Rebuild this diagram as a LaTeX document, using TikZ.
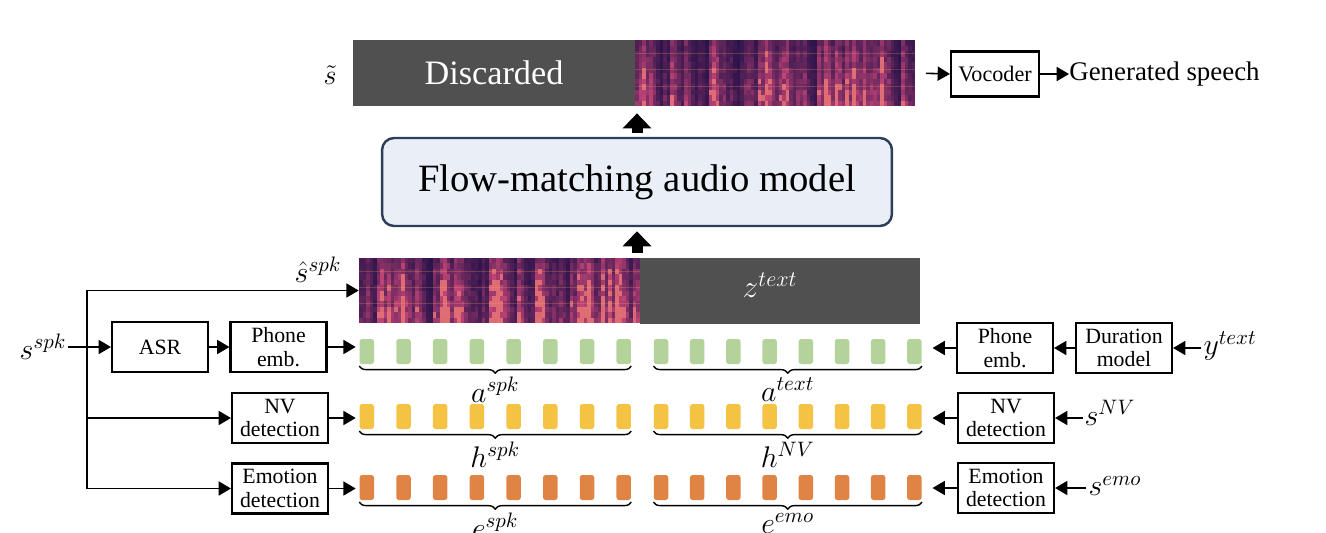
\RequirePackage{fix-cm}
\documentclass[tikz,border=0pt]{standalone}
\usepackage{amsmath}
\usepackage{fontspec}
\setmainfont{Liberation Serif}
\usepackage{tikz}
\usetikzlibrary{arrows.meta,decorations.pathreplacing}

\definecolor{bargray}{HTML}{505050}
\definecolor{flowfill}{HTML}{E9EEF7}
\definecolor{flowline}{HTML}{2D3E58}
\definecolor{tokgreen}{HTML}{B3D39B}
\definecolor{tokyellow}{HTML}{F5C343}
\definecolor{tokorange}{HTML}{E08446}
\definecolor{specbg}{HTML}{1A0E46}
\definecolor{specpink}{HTML}{D44A7C}
\definecolor{specglow}{HTML}{F4A26A}

% spectrogram: x0, y0 (top), x1, y1 (bottom), seed
\newcommand{\drawspec}[5]{%
  \fill[specbg] (#1,#2) rectangle (#3,#4);
  \pgfmathsetseed{#5}%
  \pgfmathsetmacro{\specw}{(#3-#1)/80}%
  \pgfmathsetmacro{\spech}{(#4-#2)/12}%
  \xdef\specprev{0.4}%
  \foreach \sci in {0,...,79} {
    \pgfmathsetmacro{\colb}{0.6*\specprev+0.4*rnd^2*2.3}
    \xdef\specprev{\colb}
    \foreach \sri in {0,...,11} {
      \pgfmathtruncatemacro{\amt}{min(100,100*\colb*(0.55+0.45*rnd)*(1.2-0.05*\sri))}
      \fill[specpink!\amt!specbg] ({#1+\specw*\sci},{#4-\spech*\sri}) rectangle ({#1+\specw*(\sci+1)},{#4-\spech*(\sri+1)});
      \ifnum\amt>90
        \fill[specglow, opacity=0.4] ({#1+\specw*\sci},{#4-\spech*\sri}) rectangle ({#1+\specw*(\sci+1)},{#4-\spech*(\sri+1)});
      \fi
    }
  }%
  \foreach \sgl in {0.2,0.45,0.7}
    \draw[specglow, opacity=0.25, line width=0.3pt] (#1,{#2+(#4-#2)*\sgl}) -- (#3,{#2+(#4-#2)*\sgl});
}

\tikzset{
  box/.style={draw, line width=1.2pt, minimum width=1.92cm, minimum height=1cm, inner sep=1pt, align=center, font=\fontsize{12.4}{13.5}\selectfont},
  token/.style={minimum width=0.29cm, minimum height=0.5cm, inner sep=0pt, rounded corners=1.5pt},
  arr/.style={line width=0.9pt, -{Triangle[length=7pt, width=8pt]}},
  blockarr/.style={line width=0.22cm, -{Triangle[length=0.3cm, width=0.56cm]}},
  brace/.style={decorate, decoration={brace, mirror, amplitude=4pt}, line width=0.8pt},
  lab/.style={font=\fontsize{17}{20}\selectfont, inner sep=1pt},
  bar/.style={minimum height=1.32cm, inner sep=0pt}
}

\begin{document}
\begin{tikzpicture}[x=0.02cm, y=-0.02cm]
        \useasboundingbox (0,0) rectangle (1326,532);
        % Output bar
        \node[bar, fill=bargray, minimum width=5.64cm, text=white, font=\fontsize{19.5}{22}\selectfont] (disc) at (494,73) {Discarded};
        \node[bar, minimum width=5.6cm] (sout) at (775,73) {};
        \drawspec{635}{40}{915}{106}{11}
        \node[lab, font=\fontsize{16}{18}\selectfont] (stilde) at (330,75) {$\tilde{s}$};
        % Vocoder
        \node[box, minimum width=1.76cm, minimum height=0.9cm, font=\fontsize{12.6}{14}\selectfont] (voc) at (995,74) {Vocoder};
        \node[anchor=west, inner sep=0pt, font=\fontsize{15.3}{18}\selectfont] (gen) at (1069,74) {Generated speech};
        \draw[arr, shorten <=6pt] (sout.east) -- (voc.west);
        \draw[arr] (voc.east) -- (gen.west);
        % Flow-matching model
        \node[draw=flowline, fill=flowfill, line width=1.4pt, rounded corners=0.24cm, minimum width=10.2cm, minimum height=1.76cm, font=\fontsize{22}{26}\selectfont] (flow) at (637,182) {Flow-matching audio model};
        \draw[blockarr, shorten <=2.3pt, shorten >=4pt] (flow.north) -- (flow.north |- disc.south);
        % Input bar
        \node[bar, minimum width=5.62cm] (sspk) at (499.5,290.5) {};
        \drawspec{359}{258}{640}{323}{5}
        \node[bar, fill=bargray, minimum width=5.6cm] (zbar) at (780,290.5) {};
        \node[lab, text=white, font=\fontsize{18}{20}\selectfont] (ztext) at (770,285) {$z^{text}$};
        \draw[blockarr, shorten <=2.3pt, shorten >=2.3pt] (sspk.north -| flow.south) -- (flow.south);
        % Tokens
        \foreach \r/\col/\ya in {a/tokgreen/351.5, h/tokyellow/416.5, e/tokorange/487.5} {
            \foreach \i in {0,...,7} {
                \node[token, fill=\col] (\r L\i) at ({366.8+36.7*\i},\ya) {};
                \node[token, fill=\col] (\r R\i) at ({661+36.2*\i},\ya) {};
            }
        }
        % Braces
        \draw[brace] ([yshift=-1pt]aL0.south west) -- ([yshift=-1pt]aL7.south east) node[lab, midway, below=5pt] (aspk) {$a^{spk}$};
        \draw[brace] ([yshift=-1pt]aR0.south west) -- ([yshift=-1pt]aR7.south east) node[lab, midway, below=5pt] (atext) {$a^{text}$};
        \draw[brace] ([yshift=-1pt]hL0.south west) -- ([yshift=-1pt]hL7.south east) node[lab, midway, below=5pt] (hspk) {$h^{spk}$};
        \draw[brace] ([yshift=-1pt]hR0.south west) -- ([yshift=-1pt]hR7.south east) node[lab, midway, below=5pt] (hnv) {$h^{NV}$};
        \draw[brace] ([yshift=-1pt]eL0.south west) -- ([yshift=-1pt]eL7.south east) node[lab, midway, below=5pt] (espk) {$e^{spk}$};
        \draw[brace] ([yshift=-1pt]eR0.south west) -- ([yshift=-1pt]eR7.south east) node[lab, midway, below=5pt] (eemo) {$e^{emo}$};
        % Speaker side
        \node[lab] (sin) at (43,347) {$s^{spk}$};
        \node[lab] (shat) at (318,270) {$\hat{s}^{spk}$};
        \coordinate (fork) at (87,347);
        \node[box] (asr) at (160,347) {ASR};
        \node[box] (phL) at (278.5,347) {Phone\\emb.};
        \node[box] (nvL) at (280,418) {NV\\detection};
        \node[box] (emoL) at (280,488.5) {Emotion\\detection};
        \draw[arr] (sin.east) -- (asr.west);
        \draw[arr] (asr.east) -- (phL.west);
        \draw[arr] (fork) |- (sspk.west);
        \draw[arr] (fork) |- (nvL.west);
        \draw[arr] (fork) |- (emoL.west);
        \draw[arr, shorten >=2pt] (phL.east) -- (phL.east -| aL0.west);
        \draw[arr, shorten >=2pt] (nvL.east) -- (nvL.east -| hL0.west);
        \draw[arr, shorten >=2pt] (emoL.east) -- (emoL.east -| eL0.west);
        % Text side
        \node[box] (phR) at (1005,348) {Phone\\emb.};
        \node[box] (dur) at (1124,348) {Duration\\model};
        \node[box] (nvR) at (1006,418) {NV\\detection};
        \node[box] (emoR) at (1006,488) {Emotion\\detection};
        \node[lab] (ytext) at (1230,346) {$y^{text}$};
        \node[lab] (snv) at (1110,413) {$s^{NV}$};
        \node[lab] (semo) at (1115,486) {$s^{emo}$};
        \draw[arr] (ytext.west |- dur.east) -- (dur.east);
        \draw[arr] (dur.west) -- (phR.east);
        \draw[arr] (snv.west |- nvR.east) -- (nvR.east);
        \draw[arr] (semo.west |- emoR.east) -- (emoR.east);
        \draw[arr, shorten >=6pt] (phR.west) -- (phR.west -| aR7.east);
        \draw[arr, shorten >=6pt] (nvR.west) -- (nvR.west -| hR7.east);
        \draw[arr, shorten >=6pt] (emoR.west) -- (emoR.west -| eR7.east);
\end{tikzpicture}
\end{document}
